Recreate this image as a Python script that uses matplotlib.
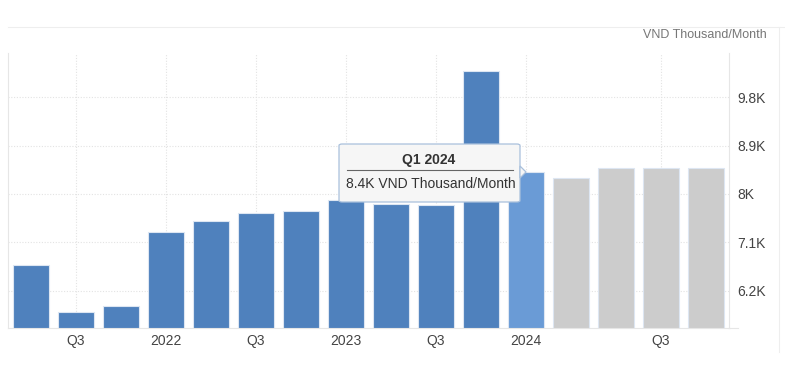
import matplotlib.pyplot as plt
from matplotlib.patches import FancyBboxPatch, Polygon
from matplotlib.lines import Line2D

plt.rcParams['font.family'] = ['Liberation Sans', 'DejaVu Sans']

# quarterly wages, VND thousand / month (Q2 2021 .. Q1 2025)
quarters = ['Q2 2021', 'Q3 2021', 'Q4 2021', 'Q1 2022', 'Q2 2022', 'Q3 2022', 'Q4 2022',
            'Q1 2023', 'Q2 2023', 'Q3 2023', 'Q4 2023', 'Q1 2024',
            'Q2 2024', 'Q3 2024', 'Q4 2024', 'Q1 2025']
values = [6.68, 5.80, 5.92, 7.29, 7.49, 7.65, 7.68, 7.89, 7.82, 7.79, 10.28, 8.40,
          8.29, 8.49, 8.49, 8.49]
n_actual = 12
highlight = 'Q1 2024'

tick_pos = [1, 3, 5, 7, 9, 11, 14]
tick_labels = ['Q3', '2022', 'Q3', '2023', 'Q3', '2024', 'Q3']
y_ticks = [6.2, 7.1, 8.0, 8.9, 9.8]
y_labels = ['6.2K', '7.1K', '8K', '8.9K', '9.8K']

W, H = 785, 379
fig = plt.figure(figsize=(W / 100, H / 100), dpi=100)
ax = fig.add_axes([8 / W, 1 - 328 / H, 721 / W, 275 / H])

colors = []
for i, q in enumerate(quarters):
    if q == highlight:
        colors.append('#6a9bd6')
    elif i < n_actual:
        colors.append('#4f81bd')
    else:
        colors.append('#cccccc')

x = list(range(len(quarters)))
ax.bar(x, values, width=0.78, color=colors, edgecolor='#dde6f2', linewidth=0.8, zorder=2)

ax.set_xlim(-0.51, 15.51)
ax.set_ylim(5.507, 10.62)

ax.set_xticks(tick_pos)
ax.set_xticklabels(tick_labels, fontsize=10, color='#444444')
ax.yaxis.tick_right()
ax.set_yticks(y_ticks)
ax.set_yticklabels(y_labels, fontsize=10, color='#444444')
ax.tick_params(axis='both', length=0)
ax.tick_params(axis='y', pad=6)
ax.tick_params(axis='x', pad=4)

ax.grid(True, linestyle=(0, (1, 1.5)), color='#e3e3e3', linewidth=0.8, zorder=0)
for s in ['left', 'right', 'bottom']:
    ax.spines[s].set_color('#e6e6e6')
ax.spines['top'].set_visible(False)

# outer frame lines
fig.add_artist(Line2D([8 / W, 1], [1 - 27 / H, 1 - 27 / H], color='#eeeeee', lw=0.8))
fig.add_artist(Line2D([779 / W, 779 / W], [1 - 27 / H, 1 - 352 / H], color='#eeeeee', lw=0.8))
fig.add_artist(Line2D([729 / W, 738 / W], [1 - 328 / H, 1 - 328 / H], color='#e6e6e6', lw=0.8))

fig.text(767 / W, 1 - 35 / H, 'VND Thousand/Month', ha='right', va='center',
         fontsize=9, color='#777777')

# tooltip for the highlighted quarter
hi = quarters.index(highlight)
bx0, by0, bx1, by1 = 339, 144, 520, 202
fig.add_artist(FancyBboxPatch((bx0 / W, 1 - by1 / H), (bx1 - bx0) / W, (by1 - by0) / H,
                              boxstyle='round,pad=0,rounding_size=0.004',
                              fc='#f6f6f6', ec='#a9c0dc', lw=0.9, zorder=10))
fig.add_artist(Polygon([(bx1 / W, 1 - 166 / H), (526 / W, 1 - 172 / H), (bx1 / W, 1 - 178 / H)],
                       closed=True, fc='#f6f6f6', ec='#a9c0dc', lw=0.9, zorder=10))
fig.text(429 / W, 1 - 160 / H, highlight, ha='center', va='center', fontsize=10,
         fontweight='bold', color='#333333', zorder=11)
fig.add_artist(Line2D([347 / W, 513 / W], [1 - 170 / H, 1 - 170 / H], color='#666666', lw=0.8, zorder=11))
fig.text(346 / W, 1 - 184 / H, '%.1fK VND Thousand/Month' % values[hi], ha='left', va='center',
         fontsize=10, color='#333333', zorder=11)

fig.savefig('out.png', dpi=100)
